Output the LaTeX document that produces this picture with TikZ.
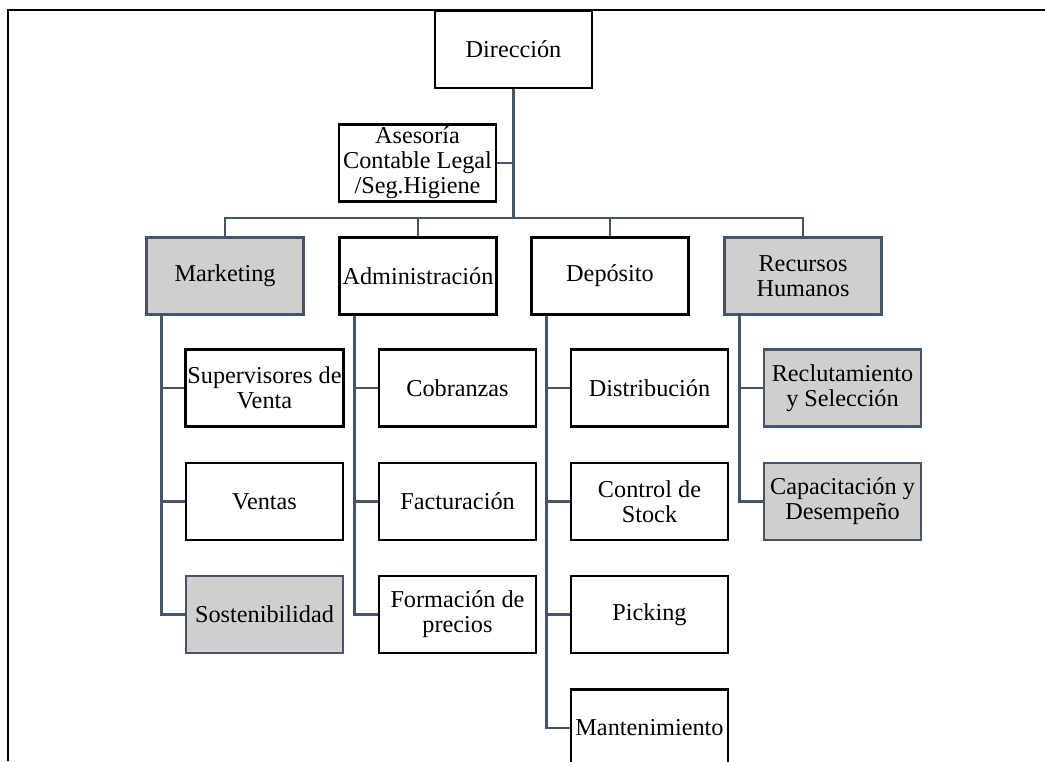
\documentclass[tikz,border=0pt]{standalone}
\usepackage{fontspec}
\setmainfont{Liberation Serif}
\usepackage{xcolor}
\usepackage{tikz}
\usetikzlibrary{positioning}
\definecolor{slate}{HTML}{44546A}
\definecolor{boxgray}{HTML}{D0CECE}

\begin{document}
\begin{tikzpicture}[
  x=0.02cm, y=-0.02cm,
  every node/.style={font=\fontsize{13.8}{14.2}\selectfont},
  block/.style={draw=black, line width=1.4pt, fill=white, rectangle,
                minimum width=3.14cm, minimum height=1.54cm,
                inner sep=1pt, align=center},
  shaded/.style={block, draw=slate, fill=boxgray},
  link/.style={draw=slate, line width=1.5pt},
  frame/.style={draw=black, line width=1.7pt}
]
  \clip (0,0) rectangle (1045,761);

  % Page frame
  \draw[frame] (1045,10) -- (8,10) -- (8,761);

  % Top
  \node[block] (dir) at (513.5, 49.5) {Dirección};
  \node[block] (ase) at (417.5, 163)  {Asesoría\\Contable Legal\\/Seg.Higiene};

  % Areas
  \node[shaded] (mkt)  at (225, 276) {Marketing};
  \node[block]  (adm)  at (418, 276) {Administración};
  \node[block]  (dep)  at (610, 276) {Depósito};
  \node[shaded] (rrhh) at (803, 276) {Recursos\\Humanos};

  % Marketing
  \node[block]  (sup)  at (264.5, 388)   {Supervisores de\\Venta};
  \node[block]  (ven)  at (264.5, 501.5) {Ventas};
  \node[shaded] (sost) at (264.5, 614.5) {Sostenibilidad};

  % Administracion
  \node[block] (cob) at (457.5, 388)   {Cobranzas};
  \node[block] (fac) at (457.5, 501.5) {Facturación};
  \node[block] (fpr) at (457.5, 614.5) {Formación de\\precios};

  % Deposito
  \node[block] (dis) at (649.5, 388)   {Distribución};
  \node[block] (cst) at (649.5, 501.5) {Control de\\Stock};
  \node[block] (pic) at (649.5, 614.5) {Picking};
  \node[block] (man) at (649.5, 728)   {Mantenimiento};

  % Recursos Humanos
  \node[shaded] (rec) at (842.5, 388)   {Reclutamiento\\y Selección};
  \node[shaded] (cap) at (842.5, 501.5) {Capacitación y\\Desempeño};

  % Lines
  \coordinate (bus) at (513.5, 218);
  \draw[link] (dir.south) -- (bus);
  \draw[link] (ase.east) -- (ase.east -| dir.south);
  \draw[link] (mkt.north) |- (bus);
  \draw[link] (adm.north) |- (bus);
  \draw[link] (dep.north) |- (bus);
  \draw[link] (rrhh.north) |- (bus);

  \draw[link] ([xshift=0.32cm]mkt.south west) |- (sup.west);
  \draw[link] ([xshift=0.32cm]mkt.south west) |- (ven.west);
  \draw[link] ([xshift=0.32cm]mkt.south west) |- (sost.west);

  \draw[link] ([xshift=0.32cm]adm.south west) |- (cob.west);
  \draw[link] ([xshift=0.32cm]adm.south west) |- (fac.west);
  \draw[link] ([xshift=0.32cm]adm.south west) |- (fpr.west);

  \draw[link] ([xshift=0.32cm]dep.south west) |- (dis.west);
  \draw[link] ([xshift=0.32cm]dep.south west) |- (cst.west);
  \draw[link] ([xshift=0.32cm]dep.south west) |- (pic.west);
  \draw[link] ([xshift=0.32cm]dep.south west) |- (man.west);

  \draw[link] ([xshift=0.32cm]rrhh.south west) |- (rec.west);
  \draw[link] ([xshift=0.32cm]rrhh.south west) |- (cap.west);
\end{tikzpicture}
\end{document}
